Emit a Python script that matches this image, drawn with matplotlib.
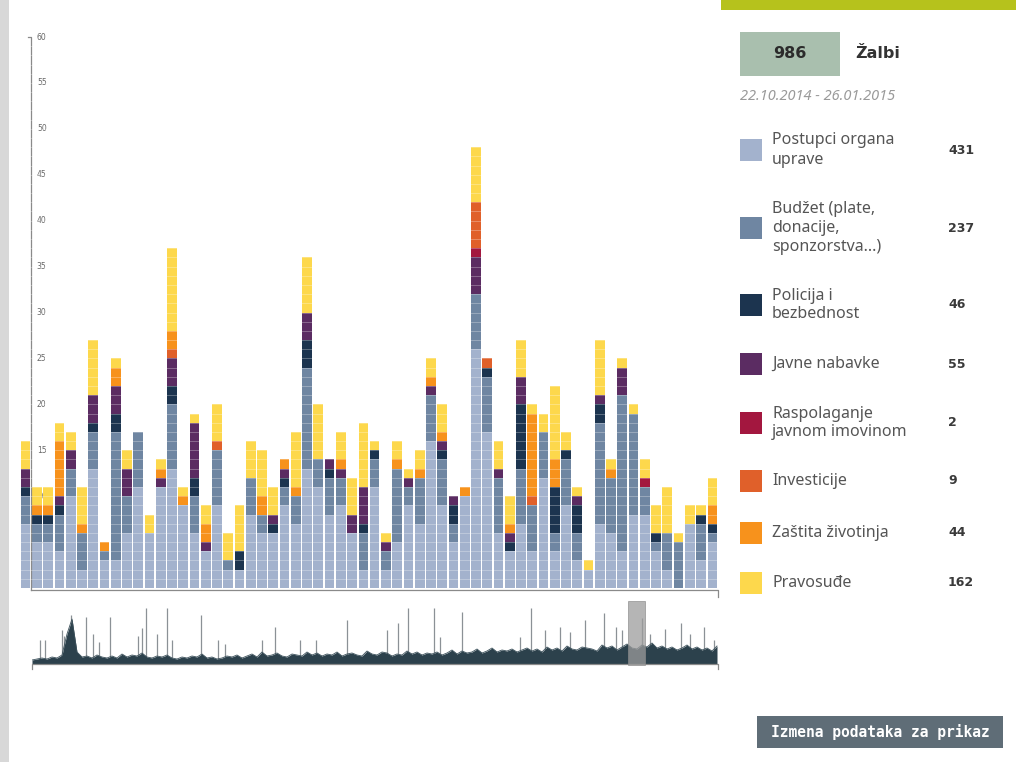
import matplotlib
matplotlib.use('Agg')
import matplotlib.pyplot as plt
from matplotlib.patches import Rectangle
import numpy as np

plt.rcParams['font.family'] = ['Noto Sans', 'DejaVu Sans']

# categories, totals and colours of the legend
categories = ['Postupci organa\nuprave', 'Budžet (plate,\ndonacije,\nsponzorstva...)',
              'Policija i\nbezbednost', 'Javne nabavke', 'Raspolaganje\njavnom imovinom',
              'Investicije', 'Zaštita životinja', 'Pravosuđe']
totals = [431, 237, 46, 55, 2, 9, 44, 162]
colors = ['#a3b2cd', '#6f86a2', '#1c344f', '#5b2c62', '#a3173f', '#e0602a', '#f7921c', '#fdd84c']

# complaints per day, per category (stacked bottom-up)
postupci = [7, 5, 5, 4, 10, 2, 13, 3, 3, 6, 11, 6, 11, 13, 9, 6, 4, 9, 2, 2,
            8, 6, 6, 9, 7, 13, 11, 8, 9, 6, 2, 11, 2, 5, 9, 7, 16, 9, 5, 10,
            26, 17, 6, 4, 7, 4, 12, 4, 9, 3, 2, 7, 6, 4, 8, 8, 4, 2, 0, 7, 3, 5]
budzet = [3, 2, 2, 4, 3, 4, 4, 1, 14, 4, 6, 0, 0, 7, 0, 4, 0, 6, 1, 0,
          4, 2, 0, 2, 3, 11, 3, 4, 3, 0, 4, 3, 2, 8, 2, 5, 5, 5, 2, 0,
          6, 6, 6, 0, 6, 5, 5, 2, 5, 3, 0, 11, 6, 17, 11, 3, 1, 4, 5, 0, 4, 1]
policija = [1, 1, 1, 1, 0, 0, 1, 0, 2, 0, 0, 0, 0, 2, 0, 2, 0, 0, 0, 2,
            0, 0, 1, 1, 0, 3, 0, 1, 0, 0, 1, 1, 0, 0, 0, 0, 0, 1, 2, 0,
            0, 1, 0, 1, 7, 0, 0, 5, 1, 3, 0, 2, 0, 0, 0, 0, 1, 0, 0, 0, 1, 1]
nabavke = [2, 0, 0, 1, 2, 0, 3, 0, 3, 3, 0, 0, 1, 3, 0, 6, 1, 0, 0, 0,
           0, 0, 1, 1, 0, 3, 0, 1, 1, 2, 4, 0, 1, 0, 1, 0, 1, 1, 1, 0,
           4, 0, 1, 1, 3, 0, 0, 0, 0, 1, 0, 1, 0, 3, 0, 0, 0, 0, 0, 0, 0, 0]
raspolaganje = [0, 0, 0, 0, 0, 0, 0, 0, 0, 0, 0, 0, 0, 0, 0, 0, 0, 0, 0, 0,
                0, 0, 0, 0, 0, 0, 0, 0, 0, 0, 0, 0, 0, 0, 0, 0, 0, 0, 0, 0,
                1, 0, 0, 0, 0, 0, 0, 0, 0, 0, 0, 0, 0, 0, 0, 1, 0, 0, 0, 0, 0, 0]
investicije = [0, 0, 0, 0, 0, 0, 0, 0, 0, 0, 0, 0, 0, 1, 0, 0, 0, 1, 0, 0,
               0, 0, 0, 0, 0, 0, 0, 0, 0, 0, 0, 0, 0, 0, 0, 0, 0, 0, 0, 0,
               5, 1, 0, 0, 0, 1, 0, 0, 0, 0, 0, 0, 0, 0, 0, 0, 0, 0, 0, 0, 0, 0]
zastita = [0, 1, 1, 6, 0, 1, 0, 1, 2, 0, 0, 0, 1, 2, 1, 0, 2, 0, 0, 0,
           0, 2, 0, 1, 1, 0, 0, 0, 1, 0, 0, 0, 0, 1, 0, 1, 1, 1, 0, 1,
           0, 0, 0, 1, 0, 9, 0, 3, 0, 0, 0, 0, 1, 0, 0, 0, 0, 0, 0, 0, 0, 2]
pravosudje = [3, 2, 2, 2, 2, 4, 6, 0, 1, 2, 0, 2, 1, 9, 1, 1, 2, 4, 3, 5,
              4, 5, 3, 0, 6, 6, 6, 0, 3, 4, 7, 1, 1, 2, 1, 2, 2, 3, 0, 0,
              6, 0, 3, 3, 4, 1, 2, 8, 2, 1, 1, 6, 1, 1, 1, 2, 3, 5, 1, 2, 1, 3]
series = [postupci, budzet, policija, nabavke, raspolaganje, investicije, zastita, pravosudje]
y_ticks = [5, 10, 15, 20, 25, 30, 35, 40, 45, 50, 55, 60]

# overview timeline (one value every 5 days) and single-day spikes
overview = [4, 5, 6, 5, 7, 6, 9, 30, 45, 12, 7, 8, 6, 9, 7, 6, 8, 6, 10, 7,
            9, 8, 11, 7, 6, 8, 7, 9, 6, 5, 7, 6, 8, 7, 10, 6, 7, 5, 6, 8,
            7, 9, 6, 8, 10, 7, 12, 8, 9, 11, 8, 7, 10, 9, 8, 12, 9, 11, 8, 10,
            9, 12, 8, 10, 11, 9, 8, 13, 10, 9, 12, 11, 8, 10, 9, 13, 10, 12, 9, 11,
            10, 12, 9, 11, 14, 10, 13, 11, 12, 15, 11, 13, 16, 12, 14, 13, 15, 12, 14, 16,
            13, 15, 12, 17, 14, 16, 13, 18, 15, 14, 17, 16, 15, 13, 19, 16, 18, 14, 17, 20,
            16, 15, 19, 17, 21, 16, 18, 15, 17, 14, 16, 19, 15, 17, 14, 16, 13, 18]
spike_days = [8, 13, 30, 32, 39, 54, 61, 67, 78, 106, 110, 114, 125, 135, 140, 169, 186,
              193, 230, 243, 268, 284, 315, 355, 366, 376, 402, 408, 430, 488, 499, 513,
              528, 538, 553, 572, 584, 590, 610, 618, 633, 649, 658, 672, 682]
spike_heights = [24, 24, 34, 28, 49, 47, 30, 22, 47, 28, 36, 56, 30, 56, 24, 49, 24,
                 20, 24, 37, 24, 24, 44, 34, 41, 56, 56, 27, 52, 27, 56, 34,
                 37, 32, 44, 51, 37, 34, 46, 30, 35, 41, 30, 37, 24]
brush_days = [596, 613]

W, H = 1016, 762
fig = plt.figure(figsize=(W / 100, H / 100), dpi=100)


def box(x0, y0, x1, y1):
    return [x0 / W, 1 - y1 / H, (x1 - x0) / W, (y1 - y0) / H]


def frect(x0, y0, x1, y1, color, **kw):
    r = Rectangle((x0 / W, 1 - y1 / H), (x1 - x0) / W, (y1 - y0) / H,
                  transform=fig.transFigure, color=color, lw=0, **kw)
    fig.add_artist(r)


# page decoration
frect(0, 0, 9, 762, '#d8d8d8')
frect(721, 0, 1016, 10, '#b6c21c')

# main stacked bar chart
ax = fig.add_axes(box(20, 37, 718, 588))
n = len(postupci)
x = np.arange(n)
bottom = np.zeros(n)
for vals, c in zip(series, colors):
    ax.bar(x, vals, bottom=bottom, width=0.86, color=c, lw=0, zorder=2)
    bottom += np.array(vals)
for v in range(1, 60):
    ax.axhline(v, color='white', lw=0.5, alpha=0.4, zorder=3)
for v in y_ticks:
    ax.text(1.0, v, str(v), fontsize=5.5, color='#666666', ha='left', va='center',
            zorder=1, family='DejaVu Sans')
ax.plot([0.25, 0.5, 0.5], [60, 60, -0.25], color='#8a8a8a', lw=0.9, clip_on=False, zorder=2.5)
ax.plot([0.5, n - 0.5, n - 0.5], [-0.25, -0.25, -1.0], color='#8a8a8a', lw=0.9,
        clip_on=False, zorder=2.5)
ax.set_xlim(-0.5, n - 0.5)
ax.set_ylim(0, 60)
ax.axis('off')

# overview timeline with brush
ax2 = fig.add_axes(box(32, 604, 718, 664))
days = np.arange(len(overview)) * 5
ax2.vlines(spike_days, 0, spike_heights, color='#8b9196', lw=0.9, zorder=1)
ax2.fill_between(days, overview, color='#2c414c', lw=0, zorder=2)
ax2.plot(days, overview, color='#3d525c', lw=0.6, zorder=2)
ax2.plot([0, 0, 686, 686], [-5, 0, 0, -5], color='#8a8a8a', lw=0.9, clip_on=False, zorder=3)
ax2.add_patch(Rectangle((brush_days[0], -1), brush_days[1] - brush_days[0], 64,
                        facecolor='#9c9c9c', edgecolor='#8a8a8a', lw=0.6, alpha=0.75,
                        clip_on=False, zorder=4))
ax2.set_xlim(0, 686)
ax2.set_ylim(0, 60)
ax2.axis('off')

# right panel: total and legend
frect(740, 32, 840, 76, '#a9bfae')
fig.text(790 / W, 1 - 54 / H, f'{sum(totals)}', fontsize=11.5, fontweight='bold',
         color='#2b2b2b', ha='center', va='center', family='DejaVu Sans')
fig.text(855 / W, 1 - 54 / H, 'Žalbi', fontsize=11.5, fontweight='bold',
         color='#333333', ha='left', va='center', family='DejaVu Sans')
fig.text(740 / W, 1 - 97 / H, '22.10.2014 - 26.01.2015', fontsize=10.5, style='italic',
         color='#9a9a9a', ha='left', va='center')

legend_y = [150, 228, 305, 364, 423, 481, 533, 583]
for label, total, c, yc in zip(categories, totals, colors, legend_y):
    frect(740, yc - 11, 762, yc + 11, c)
    fig.text(772 / W, 1 - yc / H, label, fontsize=11.5, color='#555555',
             ha='left', va='center', linespacing=1.25)
    fig.text(948 / W, 1 - yc / H, str(total), fontsize=9, fontweight='bold',
             color='#3a3a3a', ha='left', va='center', family='DejaVu Sans')

# button
frect(757, 716, 1003, 748, '#5f6d77')
fig.text(880 / W, 1 - 732 / H, 'Izmena podataka za prikaz', fontsize=10.5,
         fontweight='bold', color='white', ha='center', va='center',
         family='DejaVu Sans Mono')

fig.savefig('out.png', dpi=100)
